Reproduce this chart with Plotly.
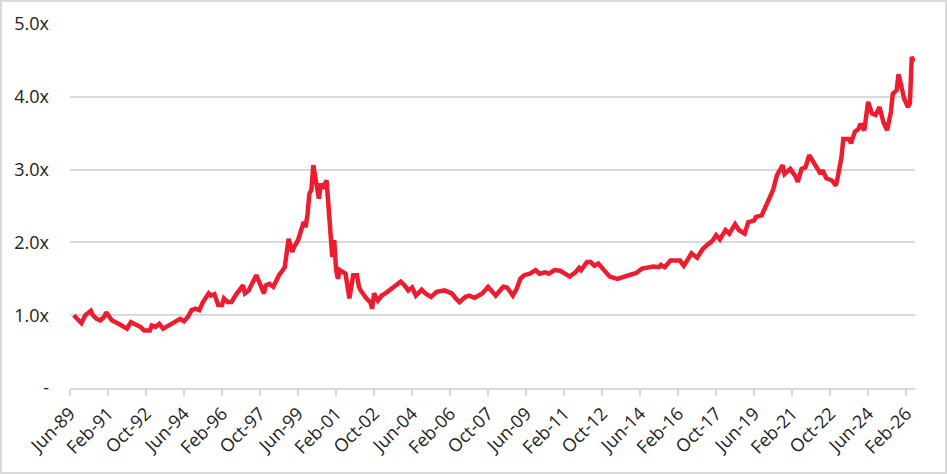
import pandas as pd
import plotly.graph_objects as go

# monthly points
months = [
    "1989-08", "1989-10", "1989-12", "1990-02", "1990-05", "1990-06", "1990-08", "1990-10",
    "1990-12", "1991-01", "1991-03", "1991-04", "1991-08", "1991-12", "1992-02", "1992-05",
    "1992-07", "1992-09", "1992-12", "1993-01", "1993-03", "1993-05", "1993-07", "1993-10",
    "1994-01", "1994-04", "1994-06", "1994-08", "1994-10", "1994-12", "1995-02", "1995-04",
    "1995-07", "1995-08", "1995-10", "1995-12", "1996-02", "1996-03", "1996-05", "1996-07",
    "1996-09", "1996-11", "1997-01", "1997-02", "1997-04", "1997-05", "1997-07", "1997-08",
    "1997-10", "1997-12", "1998-01", "1998-03", "1998-05", "1998-07", "1998-08", "1998-10",
    "1998-11", "1998-12", "1999-01", "1999-03", "1999-04", "1999-06", "1999-08", "1999-09",
    "1999-10", "1999-11", "1999-12", "2000-01", "2000-02", "2000-03", "2000-05", "2000-06",
    "2000-07", "2000-09", "2000-10", "2000-11", "2000-12", "2001-01", "2001-02", "2001-03",
    "2001-04", "2001-07", "2001-08", "2001-09", "2001-11", "2002-01", "2002-02", "2002-03",
    "2002-06", "2002-08", "2002-09", "2002-10", "2002-12", "2003-02", "2003-04", "2003-07",
    "2003-10", "2003-12", "2004-02", "2004-04", "2004-06", "2004-08", "2004-11", "2005-01",
    "2005-04", "2005-07", "2005-11", "2006-03", "2006-05", "2006-07", "2006-10", "2006-12",
    "2007-03", "2007-07", "2007-10", "2007-12", "2008-02", "2008-06", "2008-08", "2008-11",
    "2009-01", "2009-03", "2009-05", "2009-08", "2009-11", "2010-01", "2010-04", "2010-06",
    "2010-09", "2010-12", "2011-02", "2011-05", "2011-08", "2011-10", "2011-11", "2012-02",
    "2012-04", "2012-06", "2012-08", "2012-11", "2013-02", "2013-06", "2013-09", "2014-01",
    "2014-04", "2014-07", "2014-10", "2015-01", "2015-04", "2015-05", "2015-07", "2015-10",
    "2016-03", "2016-05", "2016-07", "2016-09", "2016-12", "2017-03", "2017-06", "2017-08",
    "2017-10", "2017-12", "2018-03", "2018-05", "2018-08", "2018-10", "2019-01", "2019-03",
    "2019-06", "2019-07", "2019-10", "2019-12", "2020-02", "2020-04", "2020-06", "2020-09",
    "2020-10", "2021-01", "2021-04", "2021-05", "2021-07", "2021-09", "2021-11", "2022-02",
    "2022-05", "2022-06", "2022-08", "2022-11", "2023-01", "2023-02", "2023-04", "2023-05",
    "2023-08", "2023-09", "2023-11", "2024-01", "2024-02", "2024-04", "2024-06", "2024-08",
    "2024-10", "2024-12", "2025-02", "2025-04", "2025-06", "2025-07", "2025-09", "2025-10",
    "2025-12", "2026-01", "2026-03", "2026-04", "2026-05", "2026-06",
]
multiple = [
    1.00, 0.95, 0.89, 1.00, 1.06, 1.00, 0.95, 0.93,
    0.975, 1.04, 0.975, 0.93, 0.875, 0.815, 0.905, 0.86,
    0.84, 0.79, 0.79, 0.86, 0.84, 0.88, 0.815, 0.86,
    0.905, 0.95, 0.915, 0.975, 1.07, 1.09, 1.07, 1.18,
    1.30, 1.27, 1.29, 1.14, 1.14, 1.23, 1.18, 1.18,
    1.27, 1.34, 1.41, 1.30, 1.34, 1.39, 1.50, 1.55,
    1.43, 1.30, 1.41, 1.43, 1.39, 1.52, 1.55, 1.62,
    1.66, 1.85, 2.05, 1.87, 1.94, 2.03, 2.17, 2.28,
    2.21, 2.39, 2.67, 2.72, 3.06, 2.90, 2.60, 2.81,
    2.74, 2.85, 2.44, 2.26, 1.80, 2.03, 1.62, 1.50,
    1.62, 1.57, 1.39, 1.23, 1.55, 1.55, 1.39, 1.34,
    1.23, 1.18, 1.09, 1.30, 1.20, 1.27, 1.30, 1.36,
    1.43, 1.46, 1.41, 1.34, 1.38, 1.27, 1.35, 1.30,
    1.25, 1.32, 1.34, 1.30, 1.23, 1.18, 1.25, 1.27,
    1.24, 1.30, 1.39, 1.34, 1.27, 1.39, 1.38, 1.27,
    1.36, 1.50, 1.55, 1.57, 1.62, 1.57, 1.59, 1.57,
    1.62, 1.61, 1.57, 1.53, 1.59, 1.65, 1.62, 1.73,
    1.73, 1.68, 1.71, 1.62, 1.53, 1.50, 1.52, 1.56,
    1.58, 1.64, 1.65, 1.67, 1.66, 1.69, 1.66, 1.75,
    1.75, 1.68, 1.76, 1.85, 1.79, 1.91, 1.98, 2.02,
    2.10, 2.04, 2.17, 2.12, 2.25, 2.17, 2.12, 2.28,
    2.30, 2.35, 2.37, 2.50, 2.63, 2.72, 2.92, 3.06,
    2.94, 3.01, 2.90, 2.83, 3.01, 3.03, 3.20, 3.08,
    2.94, 2.99, 2.88, 2.85, 2.78, 2.90, 3.17, 3.42,
    3.42, 3.36, 3.52, 3.56, 3.63, 3.54, 3.93, 3.77,
    3.75, 3.86, 3.65, 3.54, 3.79, 4.04, 4.09, 4.31,
    4.09, 3.97, 3.86, 3.91, 4.55, 4.48,
]

x_ticks = ["Jun-89", "Feb-91", "Oct-92", "Jun-94", "Feb-96", "Oct-97", "Jun-99", "Feb-01",
           "Oct-02", "Jun-04", "Feb-06", "Oct-07", "Jun-09", "Feb-11", "Oct-12", "Jun-14",
           "Feb-16", "Oct-17", "Jun-19", "Feb-21", "Oct-22", "Jun-24", "Feb-26"]
y_ticks = [0, 1, 2, 3, 4, 5]
y_labels = ["-", "1.0x", "2.0x", "3.0x", "4.0x", "5.0x"]

df = pd.DataFrame({"date": pd.to_datetime(months), "multiple": multiple})
tick_dates = pd.to_datetime(x_ticks, format="%b-%y")

fig = go.Figure()
fig.add_trace(go.Scatter(x=df["date"], y=df["multiple"], mode="lines",
                         line=dict(color="#ED1C2E", width=4.5), hoverinfo="x+y"))

fig.update_layout(
    width=947, height=474,
    margin=dict(l=70, r=32, t=24, b=86),
    plot_bgcolor="white", paper_bgcolor="white",
    showlegend=False,
    font=dict(family="Open Sans", size=18, color="#222222"),
)
fig.update_xaxes(
    range=["1989-06-01", "2026-06-22"], automargin=False,
    tickvals=tick_dates, ticktext=x_ticks, tickangle=-45,
    showgrid=False, showline=True, linecolor="#d9d9d9", linewidth=2,
    ticks="outside", ticklen=6, tickcolor="#d9d9d9", tickwidth=2,
    tickfont=dict(size=18),
)
fig.update_yaxes(
    range=[0, 5], tickvals=y_ticks, ticktext=y_labels, automargin=False,
    showgrid=True, gridcolor="#d9d9d9", gridwidth=1.5,
    zeroline=False, ticks="", ticklabelstandoff=20,
    tickfont=dict(size=18),
)
# light frame around the whole chart
fig.add_shape(type="rect", xref="paper", yref="paper", x0=-69 / 845, x1=1 + 31 / 845,
              y0=-85 / 364, y1=1 + 23 / 364, line=dict(color="#d9d9d9", width=2))

# drop the browser's default page margin so the chart sits at the window corner
fig.write_html("out.html", config={"displayModeBar": False},
               post_script="document.body.style.margin='0';")
